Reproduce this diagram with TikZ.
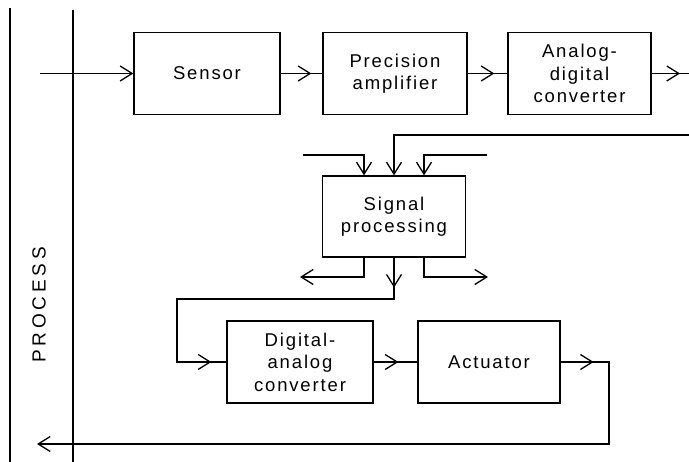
\documentclass[tikz,border=0pt]{standalone}
\usepackage{fontspec}
\newfontfamily\lblfont{Liberation Sans}[LetterSpace=10]
\newfontfamily\widefont{Liberation Sans}[LetterSpace=20]
\usetikzlibrary{arrows.meta,decorations.markings}
\tikzset{
  blk/.style={draw, line width=1.3pt, inner sep=0pt, align=center,
    font=\lblfont\fontsize{18.5}{22.5}\selectfont},
  wire/.style={draw, line width=1.3pt},
  tipend/.style={-{Straight Barb[length=12pt,width=15pt]}},
  midtip/.style={postaction={decorate}, decoration={markings,
    mark=at position #1 with {\arrow{Straight Barb[length=12pt,width=15pt]}}}},
  midtwo/.style 2 args={postaction={decorate}, decoration={markings,
    mark=at position #1 with {\arrow{Straight Barb[length=12pt,width=15pt]}},
    mark=at position #2 with {\arrow{Straight Barb[length=12pt,width=15pt]}}}}
}
\begin{document}
\begin{tikzpicture}[x=1pt, y=-1pt]
\useasboundingbox (0,0) rectangle (689,462);

% process boundary
\draw[line width=1.1pt] (10,8) -- (10,462);
\draw[line width=1.1pt] (73,10) -- (73,462);
\node[rotate=90, font=\widefont\fontsize{19}{22}\selectfont] (proc) at (39,305) {PROCESS};

% blocks
\node[blk, minimum width=146pt, minimum height=82pt] (sensor) at (207,73.5) {Sensor};
\node[blk, minimum width=144pt, minimum height=82pt] (prec) at (395,73.5) {Precision\\amplifier};
\node[blk, minimum width=143pt, minimum height=82pt] (adc) at (579.5,73.5) {Analog-\\digital\\converter};
\node[blk, minimum width=143pt, minimum height=81pt] (sig) at (394,216.5) {Signal\\processing};
\node[blk, minimum width=146pt, minimum height=82pt] (dac) at (300,362) {Digital-\\analog\\converter};
\node[blk, minimum width=142pt, minimum height=82pt] (act) at (489,362) {Actuator};

% free ends
\coordinate (in) at (40,73.5);
\coordinate (out) at (689,73.5);
\coordinate (tl) at (303,155);
\coordinate (tm) at (689,135);
\coordinate (tr) at (487,155);
\coordinate (bl) at (300,277);
\coordinate (br) at (488,277);
\coordinate (loopl) at (177,299);
\coordinate (fbr) at (609,444);
\coordinate (fbend) at (37,444);

% forward chain
\draw[wire, tipend] (in) -- (sensor.west);
\draw[wire, midtip=-11pt] (sensor.east) -- (prec.west);
\draw[wire, midtip=-13pt] (prec.east) -- (adc.west);
\draw[wire, midtip=-9pt] (adc.east) -- (out);

% signal processing inputs
\draw[wire, tipend] (tl) -| ([xshift=-30pt]sig.north);
\draw[wire, tipend] (tm) -| (sig.north);
\draw[wire, tipend] (tr) -| ([xshift=30pt]sig.north);

% signal processing outputs
\draw[wire, tipend] ([xshift=-30pt]sig.south) |- (bl);
\draw[wire, tipend] ([xshift=30pt]sig.south) |- (br);
\draw[wire, midtwo={30pt}{-15pt}] (sig.south) |- (loopl) |- (dac.west);

% output chain and feedback to the process
\draw[wire, midtip=-19pt] (dac.east) -- (act.west);
\draw[wire, tipend, midtip=33pt] (act.east) -| (fbr) -- (fbend);
\end{tikzpicture}
\end{document}
